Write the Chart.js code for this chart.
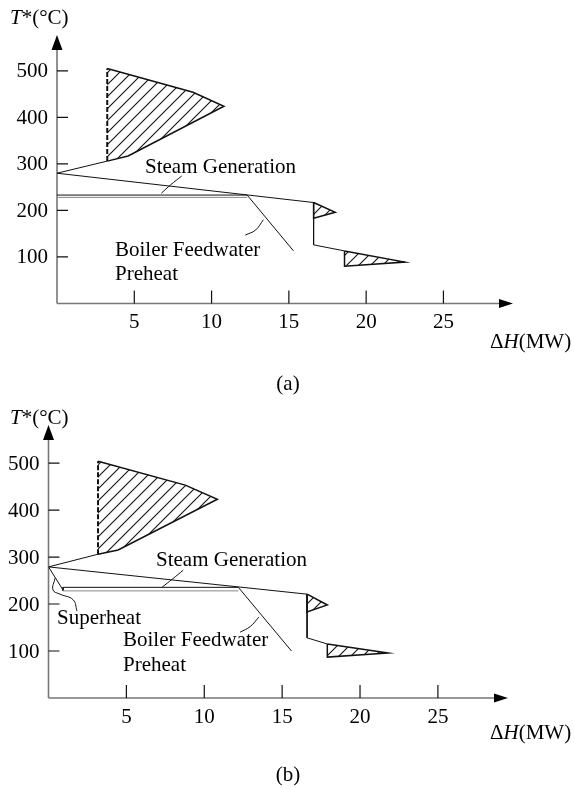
<!DOCTYPE html>
<html>
<head>
<meta charset="utf-8">
<title>Steam generation against the grand composite curve</title>
<script src="https://cdn.jsdelivr.net/npm/chart.js"></script>
<style>
  body { margin: 0; background: #fff; }
  .wrap { position: relative; width: 574px; height: 789px; }
  canvas { position: absolute; left: 0; }
</style>
</head>
<body>
<div class="wrap">
  <canvas id="chartA" width="574" height="395" style="top:0"></canvas>
  <canvas id="chartB" width="574" height="394" style="top:395px"></canvas>
</div>
<script>
// tick values on both axes
const xTicks = [5, 10, 15, 20, 25];
const yTicks = [100, 200, 300, 400, 500];

// (a) steam raised below the pinch, points are [dH (MW), T* (C)]
const gccA = [[3.25, 306], [0, 280], [16.6, 217], [16.6, 126], [18.6, 113]];
const pocketHighA = [[3.25, 306], [3.25, 505], [8.8, 454], [10.8, 424], [4.6, 317], [3.25, 306]];
const pocketMidA = [[16.6, 217], [18.0, 196], [16.6, 183], [16.6, 217]];
const pocketLowA = [[18.6, 113], [22.5, 89], [18.6, 80], [18.6, 113]];
const steamA = [[0, 233], [12.3, 233]];
const steamUnderA = [[0, 228], [12.3, 228]];
const preheatA = [[12.3, 233], [15.3, 113]];
const steamLeaderA = [[6.75, 237], [7.35, 255], [8.07, 274]];
const preheatLeaderA = [[12.18, 147], [12.85, 158], [13.35, 180]];

// (b) same, with superheat added
const gccB = [[3.18, 306], [0, 279], [16.6, 221], [16.6, 128], [17.9, 115]];
const pocketHighB = [[3.18, 306], [3.18, 504], [8.78, 453], [10.84, 423], [4.47, 315], [3.18, 306]];
const pocketMidB = [[16.6, 221], [17.9, 198], [16.6, 183], [16.6, 221]];
const pocketLowB = [[17.9, 115], [21.8, 96], [17.9, 87], [17.9, 115]];
const superheatB = [[0, 279], [0.93, 230]];
const steamB = [[0.93, 235.5], [12.19, 235.5]];
const steamUnderB = [[0.93, 228], [12.19, 228]];
const preheatB = [[12.19, 235.5], [15.6, 100]];
const steamLeaderB = [[7.3, 236], [7.95, 253], [8.65, 272]];
const preheatLeaderB = [[12.3, 140], [12.95, 152], [13.5, 172]];
const superheatLeaderB = [[0.42, 255], [0.29, 230], [0.74, 221], [1.58, 209], [1.83, 185]];

const FONT = '21px "Liberation Serif", "Times New Roman", serif';
const IFONT = 'italic 21px "Liberation Serif", "Times New Roman", serif';

function hatch(step) {
  const c = document.createElement('canvas');
  c.width = c.height = step;
  const g = c.getContext('2d');
  g.strokeStyle = '#111';
  g.lineWidth = 1.1;
  g.beginPath();
  g.moveTo(0, step); g.lineTo(step, 0);
  g.moveTo(-1, 1); g.lineTo(1, -1);
  g.moveTo(step - 1, step + 1); g.lineTo(step + 1, step - 1);
  g.stroke();
  return c.getContext('2d').createPattern(c, 'repeat');
}

const pts = arr => arr.map(([x, y]) => ({ x, y }));

function line(data, extra) {
  return Object.assign({
    data: pts(data), showLine: true, pointRadius: 0, pointHoverRadius: 0,
    borderColor: '#111', borderWidth: 1, fill: false, tension: 0
  }, extra || {});
}

function pocket(data, dashedFirst) {
  return line(data, {
    fill: 'shape', backgroundColor: hatch(12), borderWidth: 1.5,
    segment: dashedFirst ? {
      borderDash: c => c.p0DataIndex === 0 ? [5, 2] : undefined,
      borderWidth: c => c.p0DataIndex === 0 ? 2 : undefined
    } : {}
  });
}

// text made of plain and italic runs
function drawRuns(ctx, runs, x, y) {
  runs.forEach(([t, it]) => {
    ctx.font = it ? IFONT : FONT;
    ctx.fillText(t, x, y);
    x += ctx.measureText(t).width;
  });
}

// axes with arrow heads, inward ticks, tick labels and annotations
const axesPlugin = {
  id: 'axes',
  beforeDatasetsDraw(chart) {
    const { ctx, chartArea: a, scales: { x, y } } = chart;
    const x0 = x.getPixelForValue(0), y0 = y.getPixelForValue(0);
    ctx.save();
    ctx.strokeStyle = '#777';
    ctx.lineWidth = 1.6;
    ctx.beginPath();
    ctx.moveTo(x0, y0); ctx.lineTo(a.right - 10, y0);
    ctx.moveTo(x0, y0); ctx.lineTo(x0, a.top + 12);
    ctx.stroke();

    ctx.fillStyle = '#000';
    ctx.beginPath();
    ctx.moveTo(x0, a.top); ctx.lineTo(x0 - 5.5, a.top + 15); ctx.lineTo(x0 + 5.5, a.top + 15);
    ctx.closePath(); ctx.fill();
    ctx.beginPath();
    ctx.moveTo(a.right, y0); ctx.lineTo(a.right - 14, y0 - 4.5); ctx.lineTo(a.right - 14, y0 + 4.5);
    ctx.closePath(); ctx.fill();

    ctx.strokeStyle = '#111';
    ctx.lineWidth = 1.2;
    ctx.beginPath();
    xTicks.forEach(v => {
      const px = x.getPixelForValue(v);
      ctx.moveTo(px, y0); ctx.lineTo(px, y0 - 13);
    });
    yTicks.forEach(v => {
      const py = y.getPixelForValue(v);
      ctx.moveTo(x0, py); ctx.lineTo(x0 + 11, py);
    });
    ctx.stroke();

    ctx.font = FONT;
    ctx.textBaseline = 'middle';
    ctx.textAlign = 'center';
    xTicks.forEach(v => ctx.fillText(String(v), x.getPixelForValue(v), y0 + 19));
    ctx.textAlign = 'right';
    yTicks.forEach(v => ctx.fillText(String(v), x0 - 9, y.getPixelForValue(v) + 1));
    ctx.restore();
  },
  afterDraw(chart, args, opts) {
    const ctx = chart.ctx;
    ctx.save();
    ctx.fillStyle = '#000';
    ctx.textBaseline = 'middle';
    ctx.textAlign = 'left';
    drawRuns(ctx, [['T', true], ['*(°C)', false]], opts.yTitle[0], opts.yTitle[1]);
    drawRuns(ctx, [['Δ', false], ['H', true], ['(MW)', false]], opts.xTitle[0], opts.xTitle[1]);
    ctx.font = FONT;
    opts.notes.forEach(n => ctx.fillText(n.text, n.at[0], n.at[1]));
    ctx.textAlign = 'center';
    ctx.fillText(opts.caption.text, opts.caption.at[0], opts.caption.at[1]);
    ctx.restore();
  }
};

function makeChart(id, datasets, pad, yMax, labels) {
  return new Chart(document.getElementById(id), {
    type: 'scatter',
    data: { datasets },
    options: {
      responsive: false,
      animation: false,
      layout: { padding: pad },
      scales: {
        x: { type: 'linear', min: 0, max: 29.5, display: false },
        y: { type: 'linear', min: 0, max: yMax, display: false }
      },
      plugins: {
        legend: { display: false },
        tooltip: { enabled: false },
        axes: labels
      }
    },
    plugins: [axesPlugin]
  });
}

makeChart('chartA', [
  pocket(pocketHighA, true),
  pocket(pocketMidA),
  pocket(pocketLowA),
  line(gccA),
  line(steamUnderA, { borderColor: '#888' }),
  line(steamA),
  line(preheatA),
  line(steamLeaderA, { tension: 0.4 }),
  line(preheatLeaderA, { tension: 0.4 })
], { left: 57, right: 61, top: 35, bottom: 91.5 }, 577, {
  yTitle: [10, 18],
  xTitle: [490, 342],
  notes: [
    { text: 'Steam Generation', at: [145, 167] },
    { text: 'Boiler Feedwater', at: [115, 250] },
    { text: 'Preheat', at: [115, 274] }
  ],
  caption: { text: '(a)', at: [288, 384] }
});

makeChart('chartB', [
  pocket(pocketHighB, true),
  pocket(pocketMidB),
  pocket(pocketLowB),
  line(gccB),
  line(superheatB),
  line(steamUnderB, { borderColor: '#888' }),
  line(steamB),
  line([steamB[0], steamUnderB[0]]),
  line(preheatB),
  line(steamLeaderB, { tension: 0.4 }),
  line(preheatLeaderB, { tension: 0.4 }),
  line(superheatLeaderB, { tension: 0.45 })
], { left: 48.5, right: 66, top: 30, bottom: 91 }, 581, {
  yTitle: [10, 23],
  xTitle: [490, 338],
  notes: [
    { text: 'Steam Generation', at: [156, 165] },
    { text: 'Superheat', at: [57, 223] },
    { text: 'Boiler Feedwater', at: [123, 245] },
    { text: 'Preheat', at: [123, 270] }
  ],
  caption: { text: '(b)', at: [288, 380] }
});
</script>
</body>
</html>
